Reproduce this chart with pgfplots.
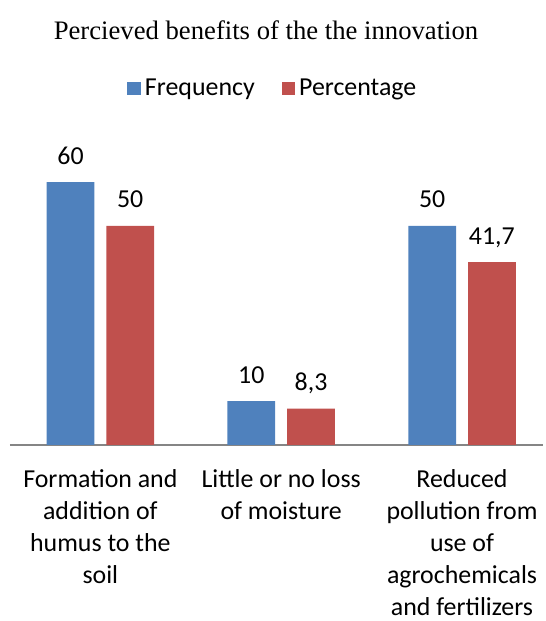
\documentclass[border=0pt]{standalone}
\usepackage{pgfplots}
\pgfplotsset{compat=1.18}
\usepackage{fontspec}
\setmainfont{Carlito}
\newfontfamily\titlefont{Liberation Serif}
\definecolor{fblue}{RGB}{79,129,189}
\definecolor{fred}{RGB}{192,80,77}
\begin{document}
\begin{tikzpicture}
\begin{axis}[
  scale only axis, width=268pt, height=154pt,
  ybar=6pt, bar width=24pt,
  xmin=-0.5, xmax=2.45, ymin=0, ymax=70,
  axis y line=none, axis x line*=bottom,
  x axis line style={color=black!48, -, line width=0.8pt},
  xtick={0,1,2}, major tick length=0pt,
  xticklabels={{Formation and\\addition of\\humus to the\\soil},{Little or no loss\\of moisture},{Reduced\\pollution from\\use of\\agrochemicals\\and fertilizers}},
  xticklabel style={align=center, font=\fontsize{13}{16.1}\selectfont, anchor=north, yshift=-9pt},
  nodes near coords,
  nodes near coords style={font=\fontsize{13}{15}\selectfont, anchor=base, yshift=9pt},
  /pgf/number format/use comma,
  /pgf/number format/assume math mode=true,
  clip=false,
  legend style={at={(0.4947,1.162)}, anchor=center, draw=none, legend columns=2, font=\fontsize{13}{15}\selectfont, /tikz/every even column/.append style={column sep=11.5pt}},
]
\addplot[fill=fblue, draw=none, legend image code/.code={\fill[fblue] (0pt,-3.4pt) rectangle (6.8pt,3.4pt);}] coordinates {(0,60) (1,10) (2,50)};
\addplot[fill=fred, draw=none, legend image code/.code={\fill[fred] (0pt,-3.4pt) rectangle (6.8pt,3.4pt);}] coordinates {(0,50) (1,8.3) (2,41.7)};
\legend{Frequency, Percentage}
\node[font=\titlefont\fontsize{13.4}{15}\selectfont] at (rel axis cs:0.48,1.354) {Percieved benefits of the the innovation};
\coordinate (bbl) at (rel axis cs:-0.01866,-0.5747);
\coordinate (btr) at (rel axis cs:1.00373,1.4513);
\end{axis}
\pgfresetboundingbox
\path (bbl) rectangle (btr);
\end{tikzpicture}
\end{document}
